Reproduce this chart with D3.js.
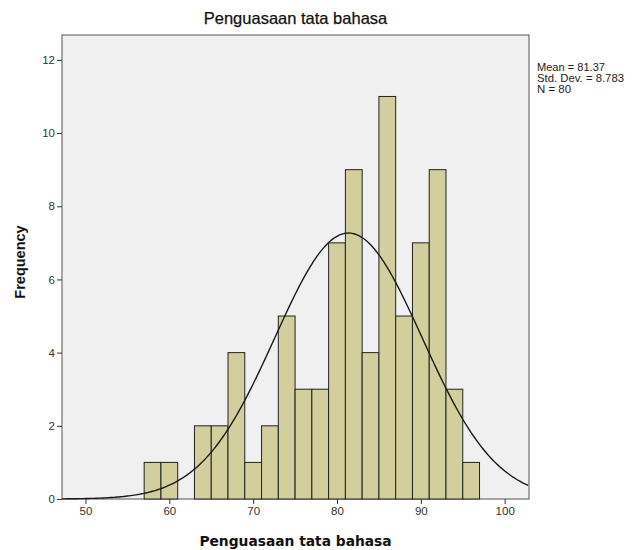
<!DOCTYPE html>
<html>
<head>
<meta charset="utf-8">
<script src="https://cdn.jsdelivr.net/npm/d3@7"></script>
<style>
  body { margin: 0; background: #fff; }
  text { font-family: "Liberation Sans", Arial, sans-serif; }
</style>
</head>
<body>
<svg id="canvas" width="633" height="550"></svg>
<script>
// histogram bins (start of each 2-point bin) and counts
const binStarts = [57, 59, 61, 63, 65, 67, 69, 71, 73, 75, 77, 79, 81, 83, 85, 87, 89, 91, 93, 95];
const counts = [1, 1, 0, 2, 2, 4, 1, 2, 5, 3, 3, 7, 9, 4, 11, 5, 7, 9, 3, 1];
const binWidth = 2;
const xTicks = [50, 60, 70, 80, 90, 100];
const yTicks = [0, 2, 4, 6, 8, 10, 12];
const mean = 81.37;
const sd = 8.783;
const n = 80;

const canvas = d3.select("#canvas");

const plotLeft = 62, plotRight = 529, plotTop = 35, plotBottom = 499;

const x = d3.scaleLinear().domain([47.2, 102.9]).range([plotLeft, plotRight]);
const y = d3.scaleLinear().domain([0, 12.68]).range([plotBottom, plotTop]);

// plot background
canvas.append("rect")
    .attr("x", plotLeft)
    .attr("y", plotTop)
    .attr("width", plotRight - plotLeft)
    .attr("height", plotBottom - plotTop)
    .attr("fill", "#f0f0f0")
    .attr("stroke", "#555")
    .attr("stroke-width", 1);

// bars
canvas.selectAll(".bar")
    .data(binStarts.map((s, i) => ({ s: s, c: counts[i] })).filter(d => d.c > 0))
    .enter()
    .append("rect")
    .attr("class", "bar")
    .attr("x", d => x(d.s))
    .attr("y", d => y(d.c))
    .attr("width", d => x(d.s + binWidth) - x(d.s))
    .attr("height", d => y(0) - y(d.c))
    .attr("fill", "#d3cf9c")
    .attr("stroke", "#222")
    .attr("stroke-width", 1);

// normal curve
const pdf = v => n * binWidth * Math.exp(-0.5 * ((v - mean) / sd) ** 2) / (sd * Math.sqrt(2 * Math.PI));
const curvePts = d3.range(x.domain()[0], x.domain()[1] + 0.01, 0.2).map(v => [v, pdf(v)]);
canvas.append("path")
    .datum(curvePts)
    .attr("fill", "none")
    .attr("stroke", "#1a1a1a")
    .attr("stroke-width", 1.4)
    .attr("d", d3.line().x(d => x(d[0])).y(d => y(d[1])));

// axes
const xAxis = canvas.append("g")
    .attr("transform", `translate(0,${plotBottom})`)
    .call(d3.axisBottom(x).tickValues(xTicks).tickSize(5).tickPadding(3));
const yAxis = canvas.append("g")
    .attr("transform", `translate(${plotLeft},0)`)
    .call(d3.axisLeft(y).tickValues(yTicks).tickSize(5).tickPadding(2));

[xAxis, yAxis].forEach(g => {
    g.select(".domain").remove();
    g.selectAll("line").attr("stroke", "#333");
    g.selectAll("text")
        .attr("fill", "#333")
        .style("font-size", "11.5px")
        .style("font-family", "Liberation Sans, Arial, sans-serif");
});

// titles
canvas.append("text")
    .attr("x", (plotLeft + plotRight) / 2)
    .attr("y", 24)
    .attr("text-anchor", "middle")
    .style("font-size", "16.5px")
    .attr("fill", "#111")
    .attr("stroke", "#111")
    .attr("stroke-width", 0.25)
    .text("Penguasaan tata bahasa");

canvas.append("text")
    .attr("x", (plotLeft + plotRight) / 2)
    .attr("y", 546)
    .attr("text-anchor", "middle")
    .style("font-family", "DejaVu Sans, Verdana, sans-serif")
    .style("font-size", "13.8px")
    .style("font-weight", "bold")
    .attr("fill", "#111")
    .text("Penguasaan tata bahasa");

canvas.append("text")
    .attr("transform", "translate(25,262) rotate(-90)")
    .attr("text-anchor", "middle")
    .style("font-size", "14.5px")
    .style("font-weight", "bold")
    .attr("fill", "#111")
    .text("Frequency");

// stats legend
const stats = [`Mean = ${mean}`, `Std. Dev. = ${sd}`, `N = ${n}`];
canvas.append("g")
    .selectAll("text")
    .data(stats)
    .enter()
    .append("text")
    .attr("x", 537)
    .attr("y", (d, i) => 71 + i * 11)
    .style("font-size", "11px")
    .attr("fill", "#222")
    .attr("textLength", (d, i) => [68, 87, 34][i])
    .attr("lengthAdjust", "spacingAndGlyphs")
    .text(d => d);
</script>
</body>
</html>
